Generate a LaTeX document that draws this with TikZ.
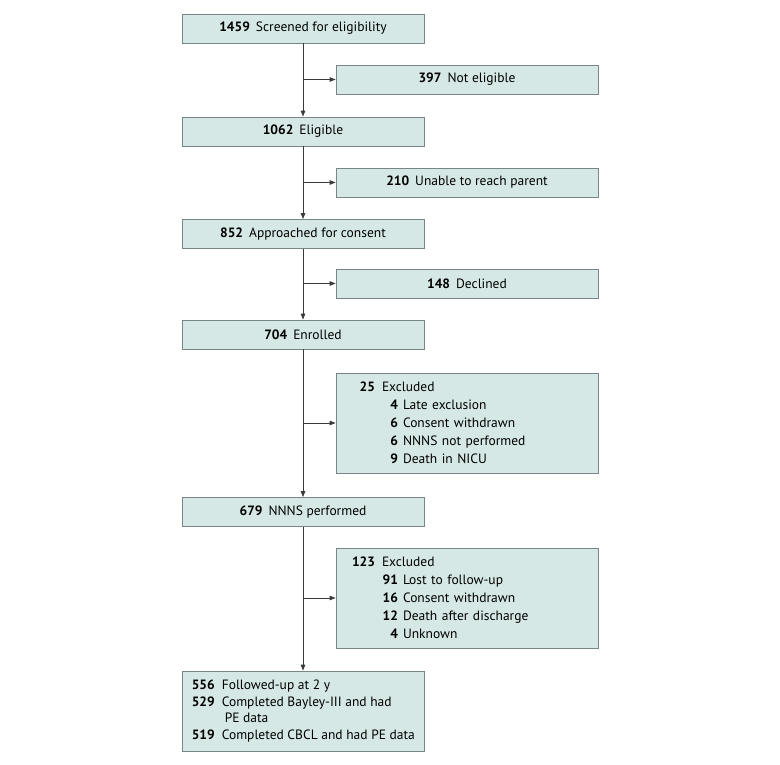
\documentclass[tikz,border=0pt]{standalone}
\usepackage{fontspec}
\setmainfont{PT Sans}
\usepackage{xcolor}
\usepackage{tikz}
\usetikzlibrary{arrows.meta, positioning}
\definecolor{Ink}{HTML}{3A3A3A}
\definecolor{Edge}{HTML}{7A8585}
\definecolor{SoftTeal}{HTML}{D5E8E6}
\newcommand{\toprow}[2]{\makebox[22pt][r]{\textbf{#1}}\hspace{7pt}#2}
\newcommand{\subrow}[2]{\hspace{29pt}\makebox[16pt][r]{\textbf{#1}}\hspace{5pt}#2}

\begin{document}
\begin{tikzpicture}[
  x=1pt, y=-1pt,
  font=\fontsize{13.5}{18}\selectfont,
  box/.style={draw=Edge, line width=0.8pt, fill=SoftTeal, inner sep=0pt, minimum height=29pt},
  mainbox/.style={box, minimum width=242pt, align=center},
  sidebox/.style={box, minimum width=262pt, align=center},
  listbox/.style={box, text width=228pt, minimum height=100pt, inner xsep=17pt, align=left},
  arrow/.style={-{Triangle[length=6pt, width=4.5pt]}, line width=0.8pt, draw=Ink}
]
\useasboundingbox (0,0) rectangle (780,764);

\node[mainbox] (screen) at (303,28.5) {\textbf{1459}\hspace{6pt}Screened for eligibility};
\node[sidebox] (noteli) at (467,79.5) {\textbf{397}\hspace{6pt}Not eligible};
\node[mainbox] (elig) at (303,131.5) {\textbf{1062}\hspace{6pt}Eligible};
\node[sidebox] (reach) at (467,182.5) {\textbf{210}\hspace{6pt}Unable to reach parent};
\node[mainbox] (approach) at (303,234) {\textbf{852}\hspace{6pt}Approached for consent};
\node[sidebox] (declined) at (467,283.5) {\textbf{148}\hspace{6pt}Declined};
\node[mainbox] (enrolled) at (303,334.5) {\textbf{704}\hspace{6pt}Enrolled};
\node[listbox] (exclone) at (467,423) {%
  \toprow{25}{Excluded}\\
  \subrow{4}{Late exclusion}\\
  \subrow{6}{Consent withdrawn}\\
  \subrow{6}{NNNS not performed}\\
  \subrow{9}{Death in NICU}};
\node[mainbox] (nnns) at (303,512) {\textbf{679}\hspace{6pt}NNNS performed};
\node[listbox] (excltwo) at (467,598) {%
  \toprow{123}{Excluded}\\
  \subrow{91}{Lost to follow-up}\\
  \subrow{16}{Consent withdrawn}\\
  \subrow{12}{Death after discharge}\\
  \subrow{4}{Unknown}};
\node[box, minimum width=242pt, minimum height=80pt] (follow) at (303,711) {};
\node[anchor=west, align=left, inner sep=0pt, font=\fontsize{13.5}{16.8}\selectfont] (followtxt) at ([xshift=11pt]follow.west) {%
  \toprow{556}{Followed-up at 2 y}\\
  \toprow{529}{Completed Bayley-III and had}\\
  \hspace{32pt}PE data\\
  \toprow{519}{Completed CBCL and had PE data}};

\coordinate (jone) at (screen.south |- noteli.west);
\coordinate (jtwo) at (elig.south |- reach.west);
\coordinate (jthree) at (approach.south |- declined.west);
\coordinate (jfour) at (enrolled.south |- exclone.west);
\coordinate (jfive) at (nnns.south |- excltwo.west);

\draw[arrow] (screen) -- (elig);
\draw[arrow] (elig) -- (approach);
\draw[arrow] (approach) -- (enrolled);
\draw[arrow] (enrolled) -- (nnns);
\draw[arrow] (nnns) -- (follow);
\draw[arrow] (jone) -- (noteli);
\draw[arrow] (jtwo) -- (reach);
\draw[arrow] (jthree) -- (declined);
\draw[arrow] (jfour) -- (exclone);
\draw[arrow] (jfive) -- (excltwo);
\end{tikzpicture}
\end{document}
